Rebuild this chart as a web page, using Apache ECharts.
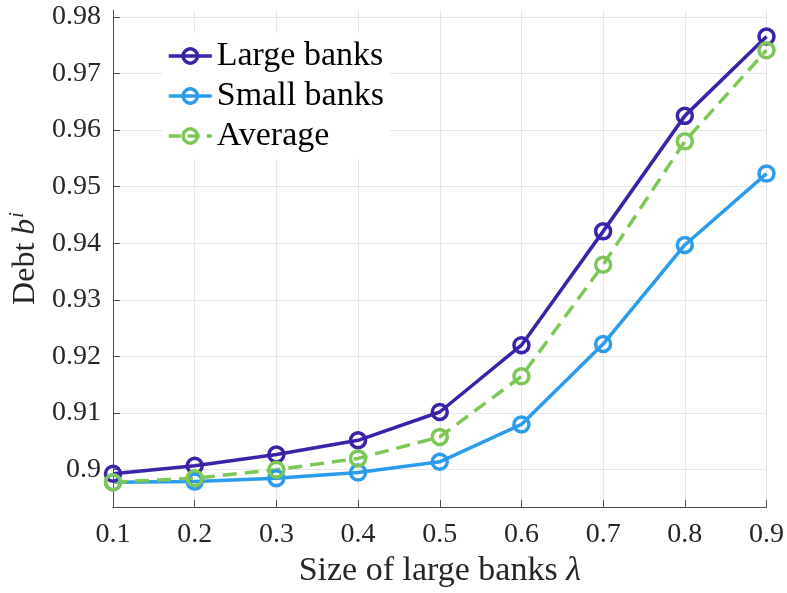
<!DOCTYPE html>
<html>
<head>
<meta charset="utf-8">
<script src="https://cdn.jsdelivr.net/npm/echarts@6/dist/echarts.min.js"></script>
<style>
html,body{margin:0;padding:0;background:#fff;}
#c{width:787px;height:593px;}
</style>
</head>
<body>
<div id="c"></div>
<script>
var lambdaLabels = ['0.1','0.2','0.3','0.4','0.5','0.6','0.7','0.8','0.9'];
var largeBanks = [0.8993, 0.9007, 0.9027, 0.9052, 0.9102, 0.9220, 0.9421, 0.9625, 0.9765];
var smallBanks = [0.8978, 0.8979, 0.8985, 0.8995, 0.9014, 0.9080, 0.9222, 0.9397, 0.9523];
var average    = [0.8978, 0.8985, 0.9000, 0.9020, 0.9058, 0.9165, 0.9362, 0.9580, 0.9741];
var yTicks = [0.9, 0.91, 0.92, 0.93, 0.94, 0.95, 0.96, 0.97, 0.98];

var FONT = 'Liberation Serif';
var C_LARGE = '#3B22A8', C_SMALL = '#2B9CEB', C_AVG = '#7DC756';

function isTick(v){
  for (var i=0;i<yTicks.length;i++){ if (Math.abs(v-yTicks[i])<1e-7) return true; }
  return false;
}
function mk(name, data, color, dashed){
  return {
    name: name, type: 'line', data: data,
    symbol: 'circle', symbolSize: 15,
    showAllSymbol: true,
    lineStyle: {color: color, width: 3.5, type: dashed ? [14, 8] : 'solid'},
    itemStyle: {color: 'rgba(255,255,255,0)', borderColor: color, borderWidth: 3.5},
    emphasis: {disabled: true},
    animation: false
  };
}
function legItem(name, color, dashed){
  return {
    name: name,
    itemStyle: {color: 'rgba(255,255,255,0)', borderColor: color, borderWidth: 3.5},
    lineStyle: {color: color, width: 3.5, type: dashed ? [12, 7] : 'solid'}
  };
}
var chart = echarts.init(document.getElementById('c'), null, {renderer:'canvas'});
chart.setOption({
  backgroundColor: '#fff',
  animation: false,
  grid: {left: 113, right: 20, top: 10, bottom: 74, containLabel: false},
  legend: {
    orient: 'vertical', left: 162, top: 33,
    itemWidth: 43, itemHeight: 18, itemGap: 2,
    backgroundColor: '#fff', padding: [4, 6, 4, 5],
    textStyle: {fontFamily: FONT, fontSize: 34, color: '#000', lineHeight: 38},
    data: [legItem('Large banks', C_LARGE, false), legItem('Small banks', C_SMALL, false), legItem('Average', C_AVG, true)]
  },
  xAxis: {
    type: 'category', data: lambdaLabels, boundaryGap: false,
    name: 'Size of large banks {l|λ}', nameLocation: 'middle', nameGap: 37,
    nameTextStyle: {fontFamily: FONT, fontSize: 34, color: '#262626',
      rich: {l: {fontFamily: FONT, fontSize: 34, fontStyle: 'italic', color: '#262626'}}},
    axisLine: {show: true, lineStyle: {color: '#4d4d4d', width: 1}},
    axisTick: {show: true, inside: true, length: 7, alignWithLabel: true, lineStyle: {color: '#4d4d4d'}},
    axisLabel: {fontFamily: FONT, fontSize: 28, color: '#262626', margin: 14},
    splitLine: {show: true, lineStyle: {color: '#e6e6e6', width: 1}}
  },
  yAxis: {
    type: 'value', min: 0.8934, max: 0.9812, splitNumber: 9,
    name: '{a|Debt }{b|b}{c|i}', nameLocation: 'middle', nameGap: 70, nameRotate: 90,
    nameTextStyle: {fontFamily: FONT, fontSize: 32, color: '#262626',
      rich: {
        a: {fontFamily: FONT, fontSize: 32, color: '#262626'},
        b: {fontFamily: FONT, fontSize: 32, fontStyle: 'italic', color: '#262626'},
        c: {fontFamily: FONT, fontSize: 20, fontStyle: 'italic', color: '#262626', verticalAlign: 'top', padding: [0,0,14,1]}
      }},
    axisLine: {show: true, lineStyle: {color: '#4d4d4d', width: 1}},
    axisTick: {show: true, inside: true, length: 7, lineStyle: {color: '#4d4d4d'}},
    axisLabel: {fontFamily: FONT, fontSize: 28, color: '#262626', margin: 12,
      showMinLabel: false, showMaxLabel: false,
      formatter: function(v){ return isTick(v) ? String(Number(v.toFixed(2))) : ''; }},
    splitLine: {show: true, showMinLine: false, showMaxLine: false, lineStyle: {color: '#e6e6e6', width: 1}}
  },
  series: [
    mk('Large banks', largeBanks, C_LARGE, false),
    mk('Small banks', smallBanks, C_SMALL, false),
    mk('Average', average, C_AVG, true)
  ]
});
</script>
</body>
</html>
